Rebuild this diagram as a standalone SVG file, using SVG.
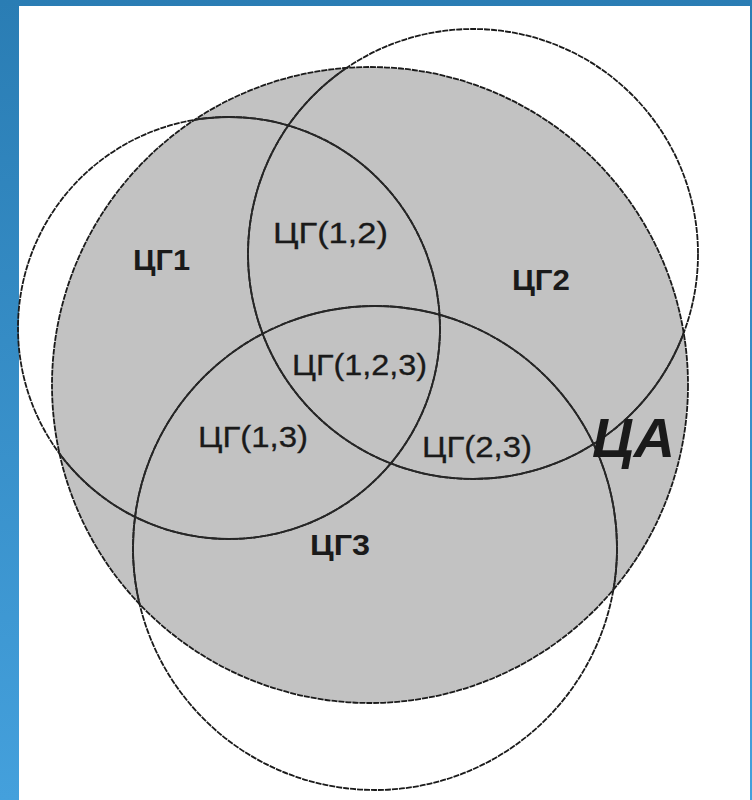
<svg xmlns="http://www.w3.org/2000/svg" width="752" height="800" viewBox="0 0 752 800">
  <defs>
    <linearGradient id="bg" x1="0" y1="0" x2="0" y2="1">
      <stop offset="0" stop-color="#2a7db4"/>
      <stop offset="1" stop-color="#44a0dc"/>
    </linearGradient>
    <clipPath id="inGray">
      <circle cx="370" cy="385" r="318"/>
    </clipPath>
  </defs>
  <style>
    .outer { fill: none; stroke: #1a1a1a; stroke-width: 1.8; stroke-dasharray: 6 1; }
    .inner { fill: none; stroke: #262626; stroke-width: 1.8; }
    .lbl { font-family: "Liberation Sans", Arial, sans-serif; fill: #1a1a1a; }
    .reg { font-size: 29px; stroke: #1a1a1a; stroke-width: 0.3; }
    .bold { font-size: 29px; font-weight: bold; }
  </style>
  <rect x="0" y="0" width="752" height="800" fill="url(#bg)"/>
  <rect x="19" y="6" width="731" height="794" fill="#ffffff"/>

  <g id="CA">
    <circle cx="370" cy="385" r="318" fill="#c2c2c2"/>
    <circle class="outer" cx="370" cy="385" r="318"/>
  </g>

  <g id="CG1">
    <circle class="outer" cx="229" cy="328" r="211"/>
    <circle class="inner" cx="229" cy="328" r="211" clip-path="url(#inGray)"/>
    <text class="lbl bold" x="133" y="270" textLength="57" lengthAdjust="spacingAndGlyphs">ЦГ1</text>
  </g>
  <g id="CG2">
    <circle class="outer" cx="473" cy="254" r="225"/>
    <circle class="inner" cx="473" cy="254" r="225" clip-path="url(#inGray)"/>
    <text class="lbl bold" x="512" y="290" textLength="58" lengthAdjust="spacingAndGlyphs">ЦГ2</text>
  </g>
  <g id="CG3">
    <circle class="outer" cx="375" cy="548" r="242"/>
    <circle class="inner" cx="375" cy="548" r="242" clip-path="url(#inGray)"/>
    <text class="lbl bold" x="310" y="555" textLength="60" lengthAdjust="spacingAndGlyphs">ЦГ3</text>
  </g>

  <g id="CG12">
    <text class="lbl reg" x="273" y="243" textLength="115" lengthAdjust="spacingAndGlyphs">ЦГ(1,2)</text>
  </g>
  <g id="CG123">
    <text class="lbl reg" x="292" y="375" textLength="135" lengthAdjust="spacingAndGlyphs">ЦГ(1,2,3)</text>
  </g>
  <g id="CG13">
    <text class="lbl reg" x="198" y="447" textLength="110" lengthAdjust="spacingAndGlyphs">ЦГ(1,3)</text>
  </g>
  <g id="CG23">
    <text class="lbl reg" x="422" y="457" textLength="110" lengthAdjust="spacingAndGlyphs">ЦГ(2,3)</text>
  </g>
  <g id="CA-label">
    <text class="lbl" x="592" y="457" font-size="56" font-weight="bold" font-style="italic" fill="#111" textLength="83" lengthAdjust="spacingAndGlyphs">ЦА</text>
  </g>
</svg>
